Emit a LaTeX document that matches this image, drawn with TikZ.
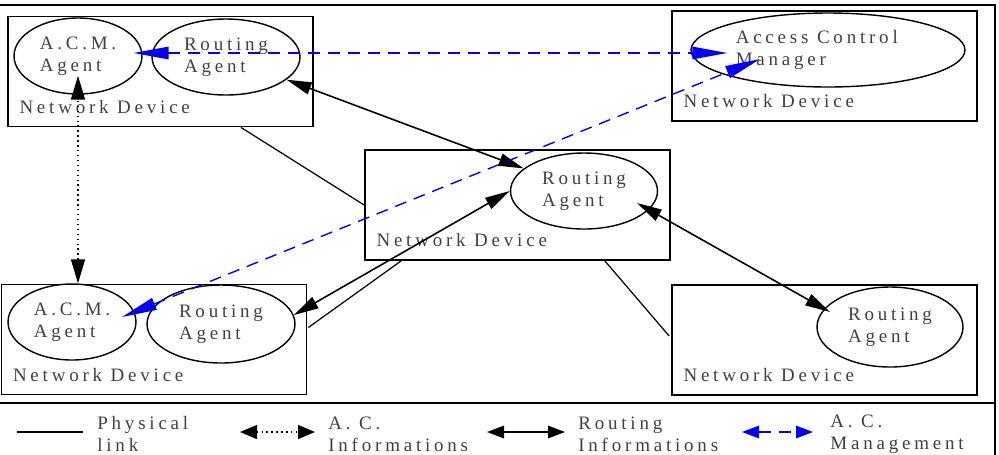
\documentclass[tikz,border=0pt]{standalone}
\usepackage{fontspec}
\setmainfont{Liberation Serif}[LetterSpace=20]
\usetikzlibrary{positioning, arrows.meta, calc, shapes.geometric}
\definecolor{acblue}{RGB}{0,0,255}

\begin{document}
\begin{tikzpicture}[
    x=0.02cm, y=-0.02cm,
    every node/.style={font=\fontsize{10.8}{12.5}\selectfont, text=black!75},
    devbox/.style={draw, line width=1pt, minimum width=6.1cm, minimum height=2.2cm, inner sep=0pt},
    agent/.style={draw, ellipse, line width=0.8pt, align=left, inner sep=0pt, minimum height=1.52cm},
    devlabel/.style={anchor=base west, inner sep=0pt, xshift=0.24cm, yshift=0.28cm},
    physlink/.style={line width=0.7pt},
    routeinfo/.style={line width=0.9pt, {Triangle[length=#1,width=0.25cm]}-{Triangle[length=#1,width=0.25cm]}},
    routeinfo/.default=0.5cm,
    acinfo/.style={line width=0.8pt, dotted, {Triangle[length=#1,width=0.28cm]}-{Triangle[length=#1,width=0.28cm]}},
    acinfo/.default=0.48cm,
    acmgmt/.style={acblue, line width=0.8pt, dash pattern=on 0.24cm off 0.16cm, {Triangle[length=#1,width=0.25cm]}-{Triangle[length=#1,width=0.25cm]}},
    acmgmt/.default=0.7cm,
    legtext/.style={anchor=west, align=left, inner sep=0pt}
  ]
  \useasboundingbox (0,0) rectangle (999,454);
  \clip (0,0) rectangle (999,454);

  % frame
  \draw[line width=1.1pt] (-3,5) rectangle (995,460);
  \draw[line width=1.1pt] (-3,403) -- (995,403);

  % network devices
  \node[devbox] (tlbox) at (160.5,71.5) {};
  \node[devbox] (trbox) at (824.5,66) {};
  \node[devbox] (mbox) at (517.5,205) {};
  \node[devbox] (blbox) at (154,339.5) {};
  \node[devbox] (brbox) at (824.5,340) {};
  \foreach \b in {tlbox, trbox, mbox, blbox, brbox}
    \node[devlabel] at (\b.south west) {Network Device};

  % agents
  \node[agent, minimum width=2.56cm] (tlacm) at (78,56) {A.C.M.\\Agent};
  \node[agent, minimum width=2.96cm] (tlra) at (226,57) {Routing\\Agent};
  \node[agent, minimum width=5.48cm, minimum height=1.48cm] (tracm) at (828,50) {Access Control\rule{0.45cm}{0pt}\\Manager};
  \node[agent, minimum width=2.94cm] (mra) at (584,191) {Routing\\Agent};
  \node[agent, minimum width=2.56cm] (blacm) at (72,322) {A.C.M.\\Agent};
  \node[agent, minimum width=2.96cm, minimum height=1.56cm] (blra) at (221,324) {Routing\\Agent};
  \node[agent, minimum width=2.92cm, minimum height=1.6cm] (bra) at (890,327) {Routing\\Agent};

  % physical links
  \draw[physlink] ($(tlbox.south east)+(-73,0)$) -- (mbox.west);
  \draw[physlink] ($(blbox.east)+(1,-12)$) -- ($(mbox.south west)+(37,0)$);
  \draw[physlink] ($(mbox.south east)+(-66,0)$) -- ($(brbox.west)+(-2,-4)$);

  % routing informations
  \draw[routeinfo] (tlra) -- (mra);
  \draw[routeinfo] (blra.7) -- (mra.west);
  \draw[routeinfo] ($(mra.center)+(53,12)$) -- ($(bra.center)+(-60,-15)$);

  % access control
  \draw[acinfo] (tlacm.south |- blacm.north) -- ($(tlacm.south)+(0,-19)$);
  \draw[acmgmt] ($(tlacm.east)+(-9,-3)$) -- ($(tracm.west)+(37,3)$);
  \draw[acmgmt] ($(blacm.center)+(50,-5)$) -- ($(tracm.center)+(-68,9)$);

  % legend
  \coordinate (l1a) at (17,432);  \coordinate (l1b) at (83,432);
  \coordinate (l2a) at (240,432); \coordinate (l2b) at (315,432);
  \coordinate (l3a) at (487,432); \coordinate (l3b) at (565,432);
  \coordinate (l4a) at (742,432); \coordinate (l4b) at (813,432);
  \draw[physlink] (l1a) -- (l1b);
  \draw[acinfo=0.34cm] (l2a) -- (l2b);
  \draw[routeinfo=0.34cm] (l3a) -- (l3b);
  \draw[acmgmt=0.34cm] (l4a) -- (l4b);
  \node[legtext] (leg1) at (97,434) {Physical\\link};
  \node[legtext] (leg2) at (328,434) {A. C.\\Informations};
  \node[legtext] (leg3) at (578,434) {Routing\\Informations};
  \node[legtext] (leg4) at (830,434) {A. C.\\Management};
\end{tikzpicture}
\end{document}
